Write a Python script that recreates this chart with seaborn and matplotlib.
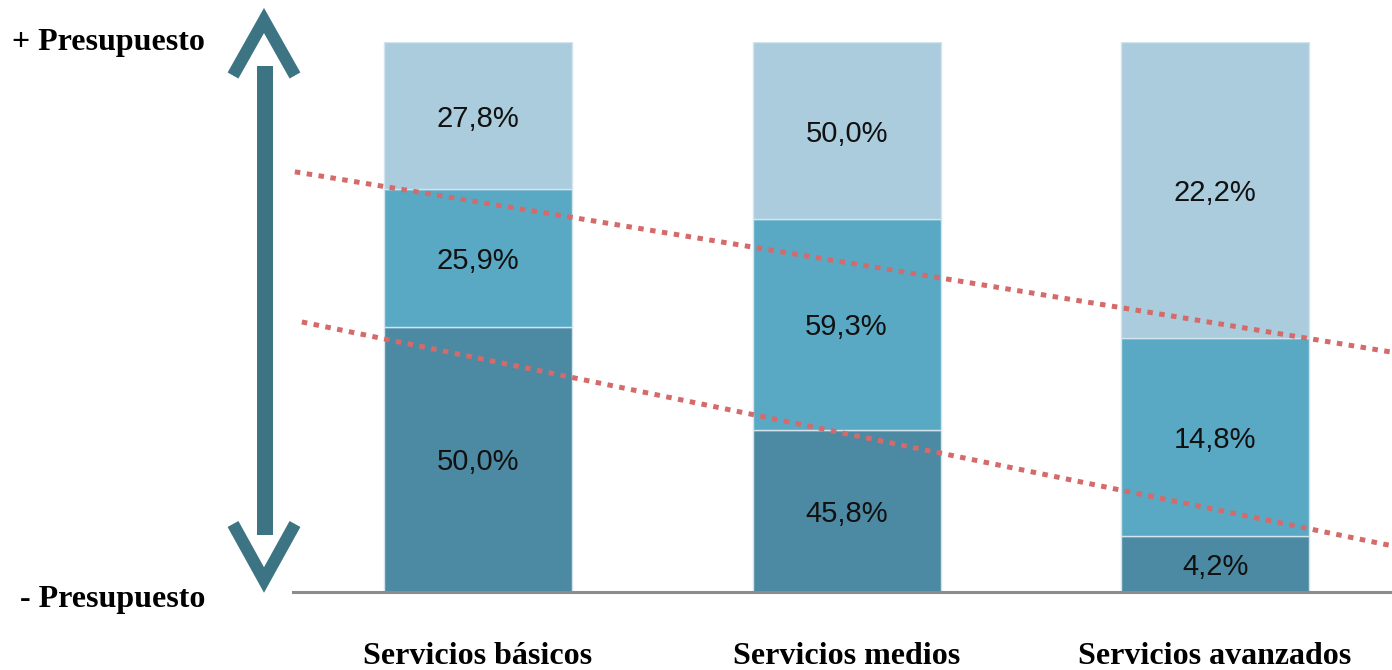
import numpy as np
import matplotlib
matplotlib.use("Agg")
import matplotlib.pyplot as plt
from matplotlib.lines import Line2D
import seaborn as sns

# Share of respondents per service level, by budget tier (bottom -> top)
categories = ["Servicios básicos", "Servicios medios", "Servicios avanzados"]
low_budget = [50.0, 45.8, 4.2]
mid_budget = [25.9, 59.3, 14.8]
high_budget = [27.8, 50.0, 22.2]
layer_colors = ["#4C8AA3", "#5AA9C4", "#AACCDC"]

# Dotted guide lines (data coords: x in category units, y in stacked %)
guide_upper_x = [-0.497, 2.48]
guide_upper_y = [76.4, 43.6]
guide_lower_x = [-0.478, 2.48]
guide_lower_y = [49.1, 8.4]

W, H = 1392, 670

sns.set_theme(style="white")
plt.rcParams["font.family"] = ["Liberation Sans Narrow", "Liberation Sans", "DejaVu Sans"]

fig = plt.figure(figsize=(W / 100, H / 100), dpi=100)
ax = fig.add_axes([293 / W, 78 / H, (W - 293) / W, 550 / H])

layers = [low_budget, mid_budget, high_budget]
totals = np.sum(layers, axis=0)
base = np.zeros(len(categories))
for vals, color in zip(layers, layer_colors):
    share = np.asarray(vals) / totals * 100
    sns.barplot(x=categories, y=share, bottom=base, color=color, width=0.51,
                saturation=1, edgecolor="#d3e4ec", linewidth=1, errorbar=None, ax=ax)
    for i, (v, s, b) in enumerate(zip(vals, share, base)):
        ax.text(i, b + s / 2, f"{v:.1f}".replace(".", ",") + "%",
                ha="center", va="center_baseline", fontsize=21, color="#111111",
                family=["Liberation Sans Narrow", "Liberation Sans"])
    base = base + share

for gx, gy in [(guide_upper_x, guide_upper_y), (guide_lower_x, guide_lower_y)]:
    ax.plot(gx, gy, color="#D46A6A", lw=3.6, linestyle=(0, (1.1, 1.3)),
            dash_capstyle="butt", clip_on=True, zorder=5)

ax.set_xlim(-0.502, 2.48)
ax.set_ylim(0, 100)
ax.set_xlabel("")
ax.set_ylabel("")
ax.set_yticks([])
for side in ["left", "right", "top"]:
    ax.spines[side].set_visible(False)
ax.spines["bottom"].set_color("#8C8C8C")
ax.spines["bottom"].set_linewidth(2.2)
ax.set_xticks(range(len(categories)))
ax.set_xticklabels(categories, fontsize=23, fontweight="bold",
                   family=["Liberation Serif", "DejaVu Serif"], color="black")
ax.tick_params(axis="x", length=0, pad=36)


def fxy(px, py):
    return px / W, 1 - py / H


# Budget arrow on the left
arrow_color = "#3D7483"
stem = Line2D(*zip(fxy(265, 66), fxy(265, 535)), transform=fig.transFigure,
              color=arrow_color, lw=11.5, solid_capstyle="butt")
head_up = Line2D(*zip(fxy(233, 75.5), fxy(264, 20.5), fxy(295, 75.5)),
                 transform=fig.transFigure, color=arrow_color, lw=8.9,
                 solid_capstyle="butt", solid_joinstyle="miter")
head_down = Line2D(*zip(fxy(233, 524), fxy(264, 580), fxy(295, 524)),
                   transform=fig.transFigure, color=arrow_color, lw=8.9,
                   solid_capstyle="butt", solid_joinstyle="miter")
for art in (stem, head_up, head_down):
    fig.add_artist(art)

serif_bold = dict(fontsize=23, fontweight="bold", ha="right", va="baseline",
                  family=["Liberation Serif", "DejaVu Serif"], color="black")
fig.text(*fxy(205, 50), "+ Presupuesto", **serif_bold)
fig.text(*fxy(205, 607), "- Presupuesto", **serif_bold)

fig.savefig("out.png", dpi=100)
